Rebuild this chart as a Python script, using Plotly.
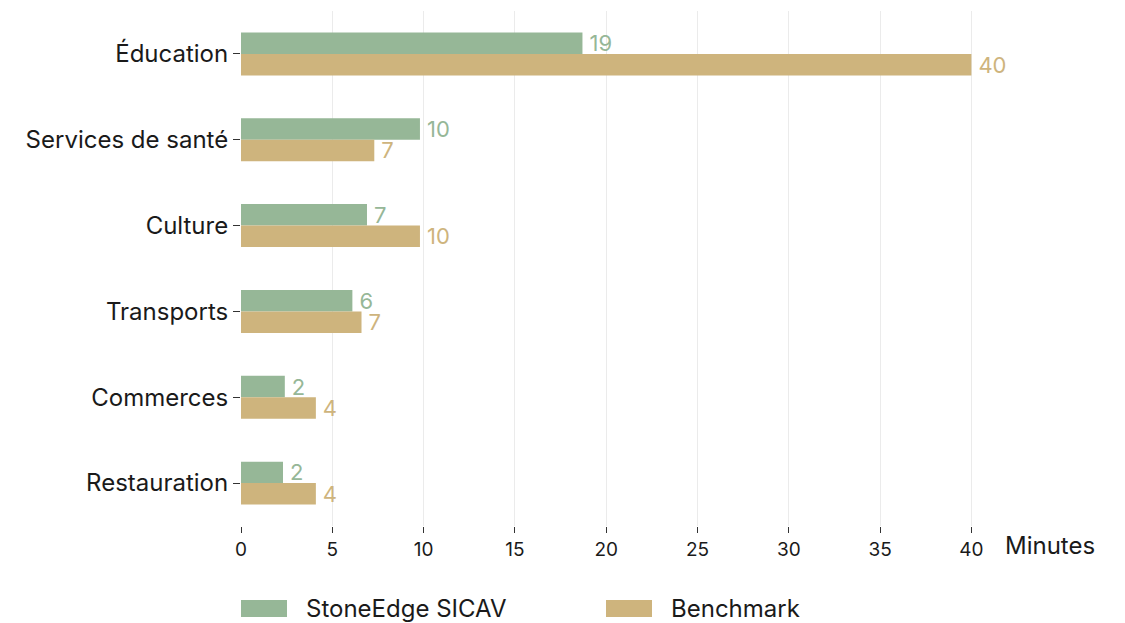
import plotly.graph_objects as go

categories = ["Éducation", "Services de santé", "Culture", "Transports", "Commerces", "Restauration"]
stoneedge = [18.7, 9.8, 6.9, 6.1, 2.4, 2.3]
benchmark = [40.0, 7.3, 9.8, 6.6, 4.1, 4.1]
series_names = ["StoneEdge SICAV", "Benchmark"]
x_ticks = [0, 5, 10, 15, 20, 25, 30, 35, 40]

GREEN = "#96B797"
TAN = "#CEB47D"
FONT = "Inter"
TXT = "#1a1a1a"

# page body has an 8px margin; the figure is sized to fill the rest of the window
OFF = 8
W, H = 1125 - OFF, 623 - OFF
L, R, T, B = 241 - OFF, 139, 11 - OFF, 97
PW, PH = W - L - R, H - T - B

fig = go.Figure()
for name, vals, col in [(series_names[0], stoneedge, GREEN), (series_names[1], benchmark, TAN)]:
    fig.add_trace(go.Bar(
        y=categories, x=vals, orientation="h", name=name,
        marker=dict(color=col, line=dict(width=0)),
        texttemplate="\u2009%{x:.0f}", textposition="outside", constraintext="none",
        textfont=dict(color=col, size=22, family=FONT),
        cliponaxis=False, showlegend=False,
    ))

fig.update_layout(
    width=W, height=H,
    margin=dict(l=L, r=R, t=T, b=B, autoexpand=False),
    paper_bgcolor="white", plot_bgcolor="white",
    barmode="group", bargap=0.5, bargroupgap=0,
    font=dict(family=FONT, color=TXT),
    showlegend=False,
)
fig.update_xaxes(
    range=[0, 40.8], tickvals=x_ticks, ticktext=[str(t) for t in x_ticks],
    showgrid=True, gridcolor="#EBEBEB", gridwidth=1,
    zeroline=False, showline=False, automargin=False,
    ticks="outside", ticklen=6, tickcolor="#333333",
    tickfont=dict(size=19, family=FONT, color=TXT),
)
fig.update_yaxes(
    autorange="reversed", showgrid=False, zeroline=False, showline=False, automargin=False,
    ticks="outside", ticklen=7, tickcolor="#333333",
    tickfont=dict(size=24, family=FONT, color=TXT),
)
fig.add_annotation(text="Minutes", xref="paper", yref="paper", x=1, y=0, xanchor="left", yanchor="top",
                   xshift=17, yshift=-3, showarrow=False, font=dict(size=24, family=FONT, color=TXT))

# legend drawn as wide swatches + text labels (positions in window pixels)
legend_items = [(series_names[0], GREEN, 241), (series_names[1], TAN, 606)]
for name, col, px in legend_items:
    def xp(p):
        return (p - OFF - L) / PW
    def yp(p):
        return (T + PH - (p - OFF)) / PH
    fig.add_shape(type="rect", xref="paper", yref="paper", x0=xp(px), x1=xp(px + 46),
                  y0=yp(600), y1=yp(617), fillcolor=col, line=dict(width=0))
    fig.add_annotation(text=name, xref="paper", yref="paper", x=xp(px + 63), y=yp(608.5),
                       xanchor="left", yanchor="middle", showarrow=False,
                       font=dict(size=24, family=FONT, color=TXT))

fig.write_html("out.html")
